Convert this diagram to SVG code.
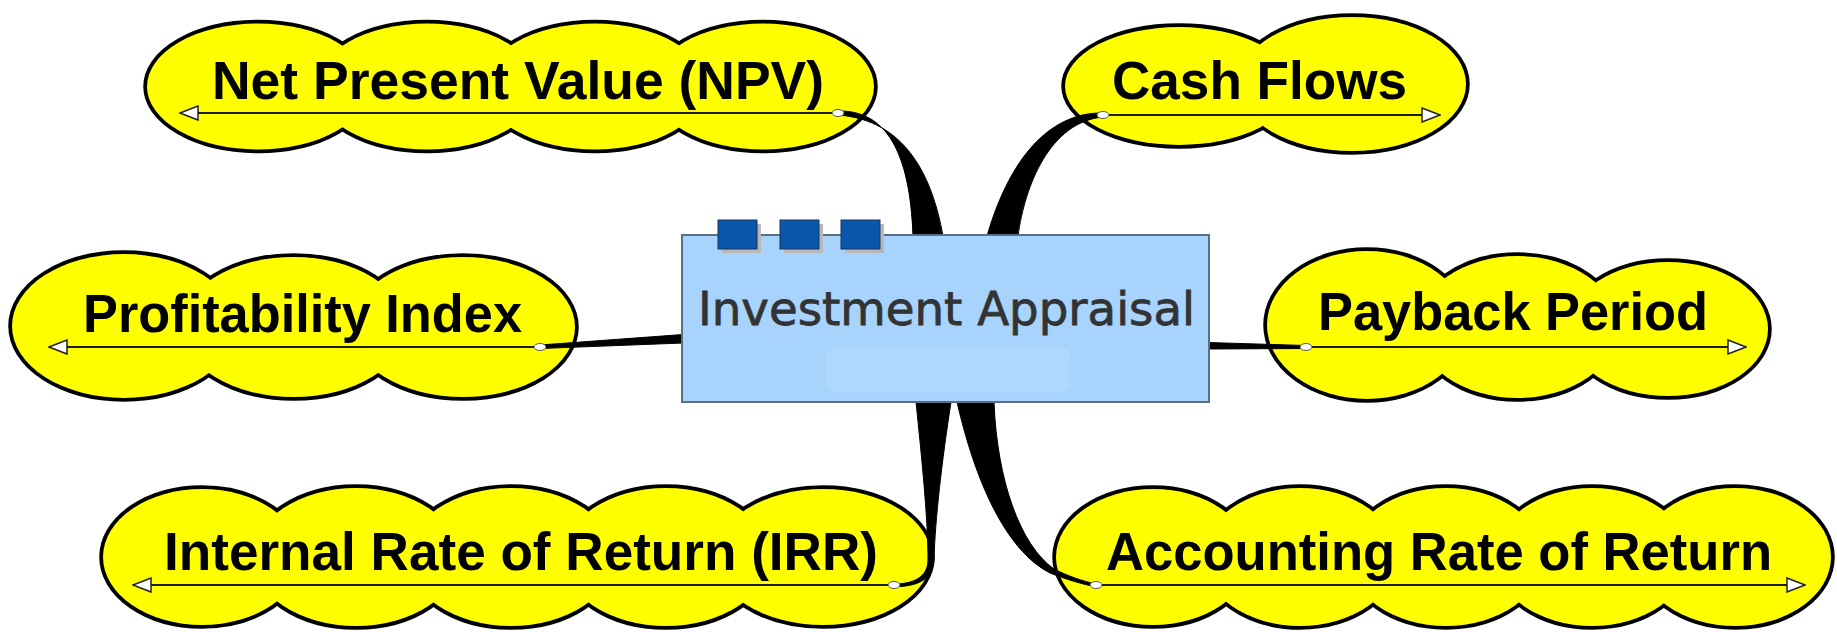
<svg xmlns="http://www.w3.org/2000/svg" width="1837" height="632" viewBox="0 0 1837 632">
<style>
.cl-o{fill:none;stroke:#000;stroke-width:7.5}
.cl-f{fill:#ffff00;stroke:none}
.lbl{font-family:"Liberation Sans",Arial,sans-serif;font-weight:bold;font-size:53px;fill:#000}
.axis{stroke:#1e1e00;stroke-width:2;fill:none}
.conn{fill:#000;stroke:#000;stroke-width:1}
.port{fill:#fff;stroke:#555;stroke-width:1}
.sq{fill:#0a56aa;stroke:#17375e;stroke-width:1}
.sqs{fill:#b8b8b8}
</style>
<defs>
<marker id="tri" viewBox="0 0 20 16" refX="19" refY="8" markerWidth="20" markerHeight="16" markerUnits="userSpaceOnUse" orient="auto">
<path d="M1,1 L19,8 L1,15 Z" fill="#fff" stroke="#222" stroke-width="1.5"/>
</marker>
</defs>
<rect width="1837" height="632" fill="#fff"/>

<g id="node-npv">
<g class="cl-o"><ellipse cx="258" cy="86.5" rx="111" ry="63"/><ellipse cx="427" cy="86.5" rx="111" ry="63"/><ellipse cx="595" cy="86.5" rx="111" ry="63"/><ellipse cx="763" cy="86.5" rx="111" ry="63"/></g>
<g class="cl-f"><ellipse cx="258" cy="86.5" rx="111" ry="63"/><ellipse cx="427" cy="86.5" rx="111" ry="63"/><ellipse cx="595" cy="86.5" rx="111" ry="63"/><ellipse cx="763" cy="86.5" rx="111" ry="63"/></g>
<line class="axis" x1="838" y1="113" x2="180" y2="113" marker-end="url(#tri)"/>
<text class="lbl" x="212" y="99" textLength="612" lengthAdjust="spacingAndGlyphs">Net Present Value (NPV)</text>
</g>

<g id="node-cash">
<g class="cl-o"><ellipse cx="1179" cy="86" rx="114" ry="59"/><ellipse cx="1352" cy="84" rx="114" ry="67"/></g>
<g class="cl-f"><ellipse cx="1179" cy="86" rx="114" ry="59"/><ellipse cx="1352" cy="84" rx="114" ry="67"/></g>
<line class="axis" x1="1103" y1="115" x2="1440" y2="115" marker-end="url(#tri)"/>
<text class="lbl" x="1112" y="99" textLength="295" lengthAdjust="spacingAndGlyphs">Cash Flows</text>
</g>

<g id="node-pi">
<g class="cl-o"><ellipse cx="124" cy="326" rx="112" ry="72"/><ellipse cx="293.5" cy="327" rx="112" ry="70"/><ellipse cx="463" cy="327" rx="112" ry="70"/></g>
<g class="cl-f"><ellipse cx="124" cy="326" rx="112" ry="72"/><ellipse cx="293.5" cy="327" rx="112" ry="70"/><ellipse cx="463" cy="327" rx="112" ry="70"/></g>
<line class="axis" x1="540" y1="347" x2="49" y2="347" marker-end="url(#tri)"/>
<text class="lbl" x="83" y="332" textLength="439" lengthAdjust="spacingAndGlyphs">Profitability Index</text>
</g>

<g id="node-payback">
<g class="cl-o"><ellipse cx="1367" cy="325" rx="100" ry="74"/><ellipse cx="1517.5" cy="327" rx="100" ry="71"/><ellipse cx="1668" cy="329" rx="100" ry="67"/></g>
<g class="cl-f"><ellipse cx="1367" cy="325" rx="100" ry="74"/><ellipse cx="1517.5" cy="327" rx="100" ry="71"/><ellipse cx="1668" cy="329" rx="100" ry="67"/></g>
<line class="axis" x1="1306" y1="347" x2="1746" y2="347" marker-end="url(#tri)"/>
<text class="lbl" x="1318" y="330" textLength="390" lengthAdjust="spacingAndGlyphs">Payback Period</text>
</g>

<g id="node-irr">
<g class="cl-o"><ellipse cx="202" cy="557" rx="99" ry="68"/><ellipse cx="356" cy="557" rx="103" ry="69"/><ellipse cx="511" cy="557" rx="103" ry="69"/><ellipse cx="666" cy="557" rx="103" ry="69"/><ellipse cx="823" cy="557" rx="108" ry="68"/></g>
<g class="cl-f"><ellipse cx="202" cy="557" rx="99" ry="68"/><ellipse cx="356" cy="557" rx="103" ry="69"/><ellipse cx="511" cy="557" rx="103" ry="69"/><ellipse cx="666" cy="557" rx="103" ry="69"/><ellipse cx="823" cy="557" rx="108" ry="68"/></g>
<line class="axis" x1="894" y1="585" x2="133" y2="585" marker-end="url(#tri)"/>
<text class="lbl" x="164" y="570" textLength="714" lengthAdjust="spacingAndGlyphs">Internal Rate of Return (IRR)</text>
</g>

<g id="node-arr">
<g class="cl-o"><ellipse cx="1153" cy="557" rx="97" ry="68"/><ellipse cx="1300" cy="557" rx="97" ry="69"/><ellipse cx="1446" cy="557" rx="97" ry="69"/><ellipse cx="1592" cy="557" rx="97" ry="69"/><ellipse cx="1735" cy="557" rx="96" ry="69"/></g>
<g class="cl-f"><ellipse cx="1153" cy="557" rx="97" ry="68"/><ellipse cx="1300" cy="557" rx="97" ry="69"/><ellipse cx="1446" cy="557" rx="97" ry="69"/><ellipse cx="1592" cy="557" rx="97" ry="69"/><ellipse cx="1735" cy="557" rx="96" ry="69"/></g>
<line class="axis" x1="1096" y1="585" x2="1805" y2="585" marker-end="url(#tri)"/>
<text class="lbl" x="1106" y="570" textLength="666" lengthAdjust="spacingAndGlyphs">Accounting Rate of Return</text>
</g>

<g id="connectors">
<path class="conn" d="M838 111 C885 110,910 150,913 236 L943 236 C932 175,905 120,838 115 Z"/>
<path class="conn" d="M1103 113 C1055 112,1012 150,987 236 L1018 236 C1025 185,1050 122,1103 117 Z"/>
<path class="conn" d="M540 345 L683 334.5 L683 343 L540 348.5 Z"/>
<path class="conn" d="M1208 342.5 L1306 345.5 L1306 348.5 L1208 349 Z"/>
<path class="conn" d="M916 402 C922 460,928 520,928 560 C928 578,912 584,894 584 L894 586.5 C916 587,933 580,934 560 C935 520,942 460,951 402 Z"/>
<path class="conn" d="M957 402 C975 480,1005 550,1050 573 C1068 580,1082 584,1096 587 L1096 584 C1082 581,1068 576,1054 569 C1020 545,997 480,994 402 Z"/>
<ellipse class="port" cx="838" cy="113" rx="6" ry="3.5"/>
<ellipse class="port" cx="1103" cy="115" rx="6" ry="3.5"/>
<ellipse class="port" cx="540" cy="347" rx="6" ry="3.5"/>
<ellipse class="port" cx="1306" cy="347" rx="6" ry="3.5"/>
<ellipse class="port" cx="894" cy="585" rx="6" ry="3.5"/>
<ellipse class="port" cx="1096" cy="585" rx="6" ry="3.5"/>
</g>

<g id="node-center">
<rect x="682" y="235" width="527" height="167" fill="#a7d3fd" stroke="#5b6f82" stroke-width="2"/>
<rect x="826" y="347" width="245" height="45" rx="12" fill="#b2daff" opacity="0.8"/>
<rect class="sqs" x="722" y="224" width="39" height="29"/>
<rect class="sqs" x="784" y="224" width="39" height="29"/>
<rect class="sqs" x="845" y="224" width="39" height="29"/>
<rect class="sq" x="718" y="220" width="39" height="29"/>
<rect class="sq" x="780" y="220" width="39" height="29"/>
<rect class="sq" x="841" y="220" width="39" height="29"/>
<text x="698" y="325" textLength="497" lengthAdjust="spacingAndGlyphs" font-family="'DejaVu Sans',Verdana,sans-serif" font-size="47" fill="#333" stroke="#333" stroke-width="0.8">Investment Appraisal</text>
</g>
</svg>
